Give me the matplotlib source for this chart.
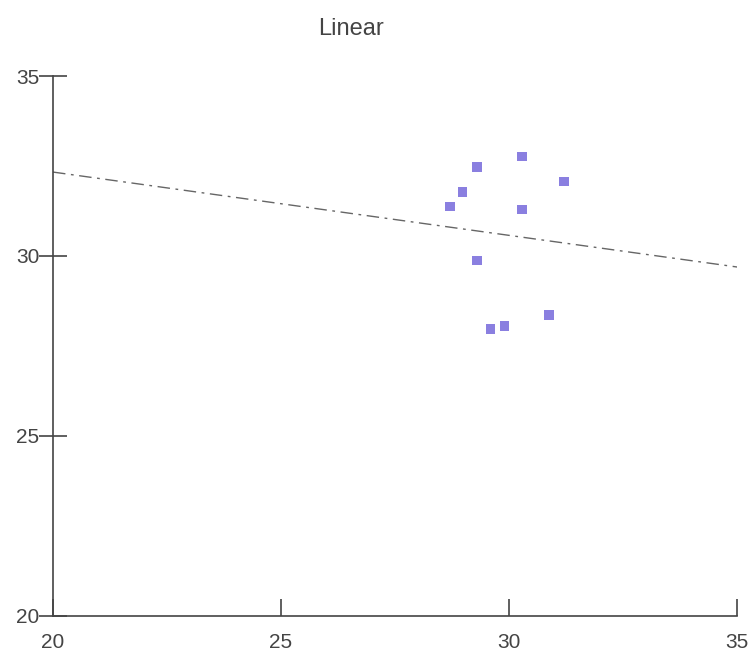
import numpy as np
import matplotlib.pyplot as plt

plt.rcParams['font.family'] = ['Liberation Sans', 'DejaVu Sans']

# Data points
x_values = np.array([28.70, 28.98, 29.30, 30.29, 31.20, 30.29, 29.30, 29.59, 29.90, 30.88])
y_values = np.array([31.38, 31.77, 32.48, 32.76, 32.07, 31.29, 29.87, 27.97, 28.06, 28.36])
ticks = [20, 25, 30, 35]

# Linear trend line
coefficients = np.polyfit(x_values, y_values, 1)
linear = np.poly1d(coefficients)
x_range = np.array([20, 35])

fig = plt.figure(figsize=(7.52, 6.53), dpi=100)
ax = fig.add_axes([0.0705, 0.0567, 0.9096, 0.8269])

ax.plot(x_range, linear(x_range), color='#666666', lw=1, dashes=(9, 4, 2, 4), zorder=1)
ax.scatter(x_values, y_values, marker='s', s=48, color='#8a7fe0', edgecolors='none', zorder=2)

ax.set_xlim(20, 35)
ax.set_ylim(20, 35)
ax.set_xticks(ticks)
ax.set_yticks(ticks)
for s in ['top', 'right']:
    ax.spines[s].set_visible(False)
for s in ['left', 'bottom']:
    ax.spines[s].set_color('#444444')
    ax.spines[s].set_linewidth(1.2)
ax.tick_params(axis='x', direction='in', length=12, width=1.2, color='#444444',
               labelsize=15, labelcolor='#444444', pad=12)
ax.tick_params(axis='y', direction='inout', length=20, width=1.2, color='#444444',
               labelsize=15, labelcolor='#444444', pad=0)

fig.text(0.467, 0.955, 'Linear', ha='center', va='center', fontsize=17, color='#444444')

fig.savefig('out.png', dpi=100)
